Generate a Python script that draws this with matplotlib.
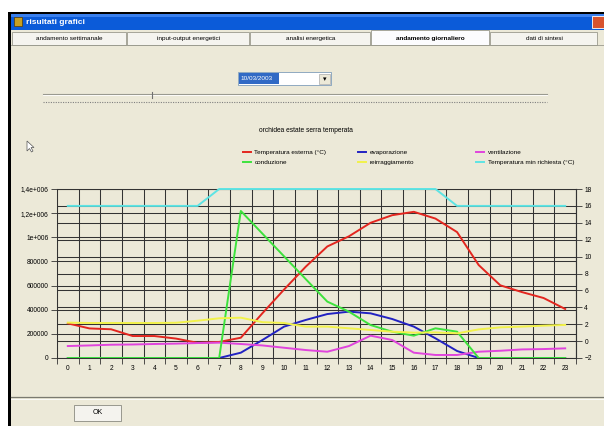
import matplotlib
matplotlib.use("Agg")
import matplotlib.pyplot as plt
import numpy as np
from matplotlib.patches import Rectangle, Polygon
from matplotlib.lines import Line2D

plt.rcParams['font.family'] = ['Liberation Sans', 'DejaVu Sans']

W, H = 604, 426

# ---- data ----
hours = list(range(24))
hour_labels = [str(h) for h in hours]

# right axis (°C)
temp_esterna = [2.1, 1.5, 1.4, 0.6, 0.6, 0.3, -0.2, -0.1, 0.4, 3.3, 6.1, 8.8,
                11.2, 12.4, 14.0, 14.9, 15.3, 14.5, 12.9, 9.0, 6.6, 5.8, 5.1, 3.8]
temp_min_richiesta = [16, 16, 16, 16, 16, 16, 16, 18, 18, 18, 18, 18,
                      18, 18, 18, 18, 18, 18, 16, 16, 16, 16, 16, 16]

# left axis
evaporazione = [0, 0, 0, 0, 0, 0, 0, 0, 44000, 149000, 260000, 315000,
                364000, 384000, 370000, 323000, 260000, 163000, 58000, 0, 0, 0, 0, 0]
ventilazione = [99000, 104000, 110000, 112000, 116000, 119000, 124000, 127000,
                116000, 104000, 85000, 66000, 52000, 99000, 185000, 149000,
                44000, 25000, 25000, 52000, 60000, 71000, 74000, 80000]
conduzione = [0, 0, 0, 0, 0, 0, 0, 0, 1218000, 1030000, 842000, 654000,
              467000, 384000, 273000, 218000, 185000, 246000, 218000, 0, 0, 0, 0, 0]
reirraggiamento = [293000, 290000, 290000, 290000, 290000, 292000, 309000, 329000,
                   334000, 297000, 290000, 260000, 260000, 246000, 232000, 218000,
                   210000, 212000, 204000, 237000, 254000, 260000, 268000, 274000]

left_ticks = [0, 200000, 400000, 600000, 800000, 1000000, 1200000, 1400000]
left_labels = ['0', '200000', '400000', '600000', '800000', '1e+006', '1,2e+006', '1,4e+006']
right_ticks = [-2, 0, 2, 4, 6, 8, 10, 12, 14, 16, 18]

tab_names = ['andamento settimanale', 'input-output energetici', 'analisi energetica',
             'andamento giornaliero', 'dati di sintesi']
tab_edges = [12, 127, 250, 371, 490, 598]
selected_tab = 3

chart_title = 'orchidea estate serra temperata'
date_text = '10/03/2003'

BG = '#ECE9D8'
GRID = '#333333'


def fx(x):
    return x / W


def fy(y):
    return 1 - y / H


def l2r(v):
    return -2 + np.asarray(v) * 20 / 1.4e6


def r2l(t):
    return (np.asarray(t) + 2) * 1.4e6 / 20


fig = plt.figure(figsize=(W / 100, H / 100), dpi=100)
fig.patch.set_facecolor('white')


def rect(x0, y0, x1, y1, zorder=-5, **kw):
    fig.patches.append(Rectangle((fx(x0), fy(y1)), (x1 - x0) / W, (y1 - y0) / H,
                                 transform=fig.transFigure, zorder=zorder, **kw))


def hline(x0, x1, y, **kw):
    fig.lines.append(Line2D([fx(x0), fx(x1)], [fy(y), fy(y)], transform=fig.transFigure,
                            zorder=-4, **kw))


def vline(x, y0, y1, **kw):
    fig.lines.append(Line2D([fx(x), fx(x)], [fy(y0), fy(y1)], transform=fig.transFigure,
                            zorder=-4, **kw))


# window body + frame
rect(8, 13, W, H, facecolor=BG, edgecolor='none', zorder=-10)
rect(8, 13, 11, H, facecolor='black', edgecolor='none')
rect(8, 12, W, 14, facecolor='black', edgecolor='none')
rect(11, 14, W, 30, facecolor='#0B5BD9', edgecolor='none')
rect(11, 14, W, 17, facecolor='#3A80EE', edgecolor='none')
rect(14, 17, 22, 26, facecolor='#C8A020', edgecolor='#5a3a00', linewidth=0.5)
fig.text(fx(26), fy(22), 'risultati grafici', color='white', fontsize=6,
         fontweight='bold', va='center', ha='left')
rect(592, 16, W, 28, facecolor='#D8532E', edgecolor='white', linewidth=0.6)

# tabs
for i, name in enumerate(tab_names):
    x0, x1 = tab_edges[i], tab_edges[i + 1]
    top = 30 if i == selected_tab else 32
    rect(x0, top, x1 - 1, 45, facecolor='#F5F4EF' if i != selected_tab else '#FCFCFE',
         edgecolor='#9a9a8e', linewidth=0.6)
    fig.text(fx((x0 + x1) / 2), fy(38.5), name, fontsize=4.6, ha='center', va='center',
             color='black', fontweight='bold' if i == selected_tab else 'normal')
hline(11, W, 45, color='#9a9a8e', linewidth=0.6)

# date combo box
rect(238, 72, 331, 85, facecolor='white', edgecolor='#7f9db9', linewidth=0.6)
rect(239, 73, 279, 84, facecolor='#316AC5', edgecolor='none')
fig.text(fx(240), fy(78.5), date_text, fontsize=4.6, color='white', va='center', ha='left')
rect(319, 74, 330, 84, facecolor='#ECE9D8', edgecolor='#aaaaaa', linewidth=0.5)
fig.text(fx(324.5), fy(79.5), '\u25be', fontsize=5, color='black', va='center', ha='center')

# slider
hline(43, 547, 93.5, color='#9a9a90', linewidth=0.8)
hline(43, 547, 94.5, color='white', linewidth=0.6)
vline(152, 92, 98, color='#707070', linewidth=0.8)
hline(43, 547, 101.5, color='#808080', linewidth=0.8, linestyle=(0, (1, 1.2)))

# mouse cursor
fig.patches.append(Polygon([(fx(27), fy(141)), (fx(27), fy(151)), (fx(29.5), fy(148.5)),
                            (fx(31.5), fy(152)), (fx(33), fy(151)), (fx(31), fy(147.5)),
                            (fx(34), fy(147.5))], closed=True, transform=fig.transFigure,
                           facecolor='white', edgecolor='#555555', linewidth=0.5, zorder=-3))

# bottom separator and OK button
hline(11, W, 397, color='#7a7a70', linewidth=0.9)
hline(11, W, 398.5, color='white', linewidth=0.6)
rect(74, 405, 121, 421, facecolor='#F4F3EE', edgecolor='#8a8a80', linewidth=0.6)
fig.text(fx(97.5), fy(413), 'OK', fontsize=5, color='black', ha='center', va='center',
         zorder=5)

# ---- chart ----
fig.text(fx(306), fy(130), chart_title, fontsize=4.8, ha='center', va='center')

ax = fig.add_axes([fx(57), fy(358), (576 - 57) / W, (358 - 189) / H])
ax.set_facecolor(BG)
ax.set_xlim(-0.5, 23.5)
ax.set_ylim(0, 1.4e6)

for t in right_ticks:
    ax.axhline(r2l(t), color=GRID, linewidth=0.75, zorder=1)

ax.set_yticks(left_ticks)
ax.set_yticklabels(left_labels)
ax.set_xticks(np.arange(-0.5, 24, 1))
ax.set_xticklabels([])
ax.set_xticks(hours, minor=True)
ax.set_xticklabels(hour_labels, minor=True)
ax.grid(True, which='major', color=GRID, linewidth=0.75, zorder=1)
ax.set_axisbelow(True)
ax.tick_params(which='major', length=4, width=0.6, color='#333333', labelsize=4.8, pad=2)
ax.tick_params(which='minor', axis='x', length=0, labelsize=4.8, pad=5)
for s in ax.spines.values():
    s.set_color('#333333')
    s.set_linewidth(0.75)

sec = ax.secondary_yaxis('right', functions=(l2r, r2l))
sec.set_yticks(right_ticks)
sec.tick_params(length=4, width=0.6, color='#333333', labelsize=4.8, pad=2)
sec.spines['right'].set_color('#333333')

lw = 1.4
l_red, = ax.plot(hours, r2l(temp_esterna), color='#E3261F', lw=lw, zorder=3)
l_blue, = ax.plot(hours, evaporazione, color='#2222C2', lw=lw, zorder=3)
l_mag, = ax.plot(hours, ventilazione, color='#E044DD', lw=lw, zorder=3)
l_green, = ax.plot(hours, conduzione, color='#3DE23D', lw=lw, zorder=3)
l_yel, = ax.plot(hours, reirraggiamento, color='#F2F24A', lw=lw, zorder=3)
l_cyan, = ax.plot(hours, r2l(temp_min_richiesta), color='#5EE4E4', lw=lw, zorder=3,
                  clip_on=False)

legend_cols = [
    ([l_red, l_green], ['Temperatura esterna (\u00b0C)', 'conduzione'], 243),
    ([l_blue, l_yel], ['evaporazione', 'reirraggiamento'], 358),
    ([l_mag, l_cyan], ['ventilazione', 'Temperatura min richiesta (\u00b0C)'], 476),
]
for handles, labels, xpos in legend_cols:
    fig.legend(handles, labels, loc='upper left', bbox_to_anchor=(fx(xpos), fy(149.5)),
               frameon=False, fontsize=4.6, handlelength=1.2, handletextpad=0.6,
               labelspacing=0.75, borderpad=0, borderaxespad=0)

fig.savefig('out.png', dpi=100, facecolor=fig.get_facecolor())
